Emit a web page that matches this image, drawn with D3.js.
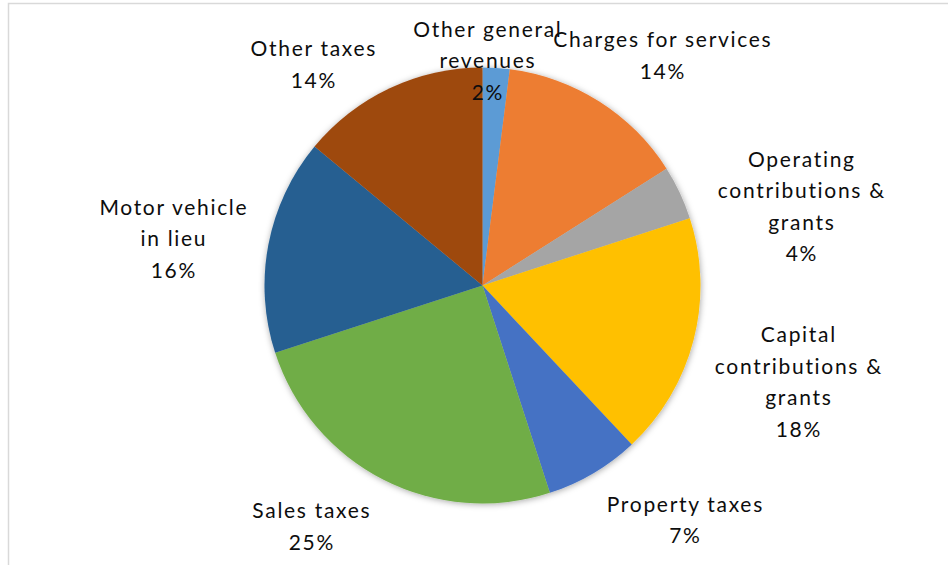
<!DOCTYPE html>
<html>
<head>
<meta charset="utf-8">
<script src="https://cdn.jsdelivr.net/npm/d3@7"></script>
<style>
  html, body { margin: 0; padding: 0; background: #fff; }
  svg { display: block; }
  .lbl { font-family: Lato, "Open Sans", sans-serif; font-size: 21px; fill: #0d0d0d; letter-spacing: 1.7px; }
</style>
</head>
<body>
<svg id="chart" width="948" height="565"></svg>
<script>
// Revenue sources, clockwise from 12 o'clock
const categories = [
  "Other general\nrevenues",
  "Charges for services",
  "Operating\ncontributions &\ngrants",
  "Capital\ncontributions &\ngrants",
  "Property taxes",
  "Sales taxes",
  "Motor vehicle\nin lieu",
  "Other taxes"
];
const shares = [2, 14, 4, 18, 7, 25, 16, 14];
const colors = ["#5B9BD5", "#ED7D31", "#A5A5A5", "#FFC000", "#4472C4", "#70AD47", "#255E91", "#9E480E"];

// Label block centres, relative to the pie centre
const labelOffsets = [
  [4.5, -225], [179.5, -230], [318.5, -79], [315.5, 96.5],
  [202, 234.5], [-171.5, 241], [-309.5, -47], [-169.5, -221]
];

const width = 948, height = 565;
const cx = 482.5, cy = 285.5, radius = 218;
const lineHeight = 31.5, baselineShift = 7.5;

const svg = d3.select("#chart");

// outer frame
svg.append("rect")
  .attr("x", 8.5).attr("y", 3.5)
  .attr("width", width + 10).attr("height", height + 10)
  .attr("fill", "none").attr("stroke", "#d9d9d9").attr("stroke-width", 1.5);

const defs = svg.append("defs");
const shadow = defs.append("filter").attr("id", "pieShadow")
  .attr("x", "-10%").attr("y", "-10%").attr("width", "120%").attr("height", "120%");
shadow.append("feDropShadow")
  .attr("dx", 0.5).attr("dy", 1).attr("stdDeviation", 3)
  .attr("flood-color", "#000").attr("flood-opacity", 0.35);

const pie = d3.pie().sort(null).value(d => d)(shares);
const arc = d3.arc().innerRadius(0).outerRadius(radius);

const g = svg.append("g").attr("transform", `translate(${cx},${cy})`);

g.append("g").attr("filter", "url(#pieShadow)")
  .selectAll("path")
  .data(pie)
  .join("path")
  .attr("d", arc)
  .attr("fill", (d, i) => colors[i]);

// category name lines followed by the percentage
g.append("g").selectAll("text")
  .data(pie)
  .join("text")
  .attr("class", "lbl")
  .attr("text-anchor", "middle")
  .each(function (d, i) {
    const lines = categories[i].split("\n").concat([d3.format(".0%")(shares[i] / 100)]);
    const [ox, oy] = labelOffsets[i];
    const n = lines.length;
    d3.select(this).selectAll("tspan")
      .data(lines)
      .join("tspan")
      .attr("x", ox + 0.85)
      .attr("y", (t, j) => oy + (j - (n - 1) / 2) * lineHeight + baselineShift)
      .text(t => t);
  });
</script>
</body>
</html>
